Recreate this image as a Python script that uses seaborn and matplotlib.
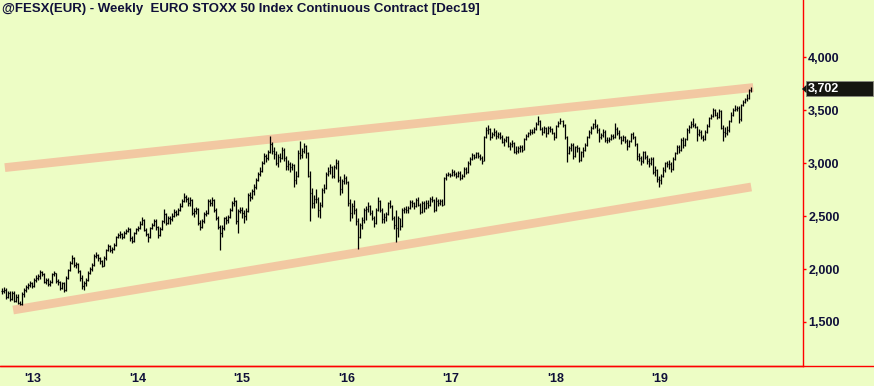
import matplotlib
matplotlib.use("Agg")
import matplotlib.pyplot as plt
import matplotlib.dates as mdates
import matplotlib.transforms as mtransforms
from matplotlib.lines import Line2D
from matplotlib.patches import Rectangle, Polygon
from matplotlib.ticker import FixedLocator, FuncFormatter
import numpy as np
import pandas as pd
import seaborn as sns

TITLE = "@FESX(EUR) - Weekly  EURO STOXX 50 Index Continuous Contract [Dec19]"
FIRST_WEEK = "2012-09-14"
LAST_PRICE = 3702

# weekly closes, one row per quarter
closes = [
    1790, 1800, 1740, 1770, 1720, 1770, 1700, 1740, 1680, 1670, 1760, 1800, 1830, 1850, 1870, 1840,
    1900, 1920, 1930, 1970, 1950, 1880, 1900, 1860, 1880, 1950, 1960, 1890, 1880,
    1820, 1870, 1800, 1920, 1990, 2060, 2100, 2040, 2050, 1980, 1920, 1840, 1870,
    1900, 1960, 2000, 2040, 2120, 2130, 2100, 2080, 2030, 2100, 2180, 2220, 2180,
    2190, 2230, 2300, 2320, 2330, 2300, 2340, 2360, 2380, 2290, 2270, 2340, 2380,
    2390, 2430, 2460, 2370, 2330, 2300, 2390, 2420, 2450, 2400, 2320, 2380, 2450,
    2520, 2440, 2480, 2470, 2500, 2540, 2520, 2560, 2600, 2640, 2680, 2660, 2620,
    2650, 2530, 2550, 2570, 2440, 2400, 2450, 2520, 2530, 2640, 2620, 2650, 2560,
    2480, 2400, 2340, 2390, 2480, 2460, 2490, 2560, 2620, 2640, 2450, 2550, 2560,
    2530, 2500, 2550, 2700, 2680, 2740, 2780, 2840, 2900, 2930, 3000, 3070, 3050,
    3110, 3180, 3120, 3090, 3000, 3060, 3050, 3130, 3050, 2970, 2990, 2960, 2980,
    2840, 2880, 3100, 3080, 3120, 3160, 3100, 2880, 2720, 2620, 2660, 2660, 2560,
    2610, 2750, 2770, 2900, 2930, 2960, 2880, 2960, 3000, 2840, 2760, 2830, 2860,
    2820, 2620, 2530, 2600, 2560, 2450, 2300, 2420, 2460, 2560, 2570, 2600, 2530,
    2480, 2440, 2560, 2640, 2560, 2470, 2490, 2520, 2620, 2600, 2480, 2420, 2390,
    2480, 2410, 2560, 2570, 2560, 2580, 2630, 2620, 2600, 2650, 2610, 2540, 2620, 2580,
    2620, 2610, 2660, 2650, 2560, 2640, 2620, 2640, 2610, 2860, 2890, 2900, 2890,
    2920, 2900, 2880, 2910, 2860, 2880, 2950, 2920, 3000, 3040, 3080, 3060, 3100,
    3070, 3050, 3020, 3250, 3310, 3320, 3250, 3280, 3300, 3260, 3280, 3250, 3200,
    3220, 3250, 3160, 3180, 3190, 3110, 3120, 3140, 3150, 3130, 3230, 3260, 3290,
    3300, 3300, 3320, 3370, 3400, 3320, 3300, 3330, 3290, 3330, 3320, 3290, 3250,
    3350, 3380, 3400, 3360, 3250, 3100, 3140, 3170, 3070, 3150, 3140, 3030, 3110,
    3130, 3170, 3250, 3300, 3330, 3370, 3350, 3310, 3250, 3270, 3300, 3220, 3220,
    3230, 3260, 3250, 3320, 3290, 3250, 3220, 3250, 3210, 3160, 3210, 3280, 3250,
    3180, 3070, 3050, 3020, 3110, 3060, 3020, 3000, 3040, 2920, 2940, 2850, 2840,
    2880, 2940, 3000, 2990, 2990, 2950, 3040, 3100, 3150, 3130, 3220, 3170, 3230,
    3310, 3340, 3370, 3360, 3340, 3280, 3300, 3250, 3230, 3300, 3350, 3430, 3450,
    3500, 3460, 3440, 3490, 3330, 3300, 3290, 3310, 3400, 3460, 3500, 3510, 3520,
    3420, 3550, 3580, 3610, 3620, 3690, 3702,
]

highs = [
    1820, 1830, 1820, 1790, 1790, 1790, 1790, 1760, 1760, 1700, 1780, 1820, 1850, 1870, 1890, 1880,
    1920, 1940, 1950, 1990, 1980, 1960, 1920, 1920, 1900, 1960, 1980, 1960, 1910,
    1890, 1880, 1880, 1930, 2000, 2080, 2130, 2110, 2070, 2060, 1990, 1940, 1890,
    1920, 1980, 2020, 2060, 2140, 2160, 2140, 2110, 2090, 2120, 2190, 2240, 2230,
    2210, 2250, 2310, 2340, 2360, 2340, 2360, 2380, 2400, 2390, 2310, 2350, 2390,
    2410, 2450, 2490, 2470, 2390, 2340, 2400, 2440, 2470, 2470, 2410, 2400, 2460,
    2565, 2530, 2500, 2500, 2530, 2570, 2560, 2580, 2620, 2660, 2720, 2700, 2680,
    2680, 2660, 2580, 2590, 2580, 2460, 2470, 2540, 2560, 2660, 2660, 2680, 2660,
    2580, 2500, 2420, 2420, 2490, 2500, 2510, 2580, 2640, 2680, 2650, 2570, 2590,
    2590, 2560, 2580, 2720, 2730, 2760, 2800, 2860, 2920, 2960, 3020, 3100, 3090,
    3130, 3255, 3200, 3150, 3120, 3090, 3100, 3150, 3140, 3070, 3030, 3010, 3000,
    2990, 2930, 3130, 3210, 3140, 3190, 3170, 3110, 2930, 2770, 2700, 2760, 2680,
    2630, 2770, 2800, 2920, 2960, 2990, 2970, 2980, 3045, 3030, 2880, 2850, 2900,
    2880, 2830, 2660, 2620, 2650, 2580, 2480, 2440, 2490, 2580, 2600, 2630, 2610,
    2560, 2500, 2580, 2680, 2650, 2580, 2530, 2540, 2630, 2650, 2610, 2500, 2560,
    2500, 2480, 2580, 2590, 2600, 2600, 2650, 2650, 2630, 2670, 2680, 2620, 2640, 2640,
    2650, 2650, 2680, 2690, 2660, 2680, 2660, 2660, 2660, 2870, 2910, 2920, 2910,
    2950, 2940, 2920, 2930, 2930, 2900, 2960, 2960, 3020, 3060, 3100, 3090, 3110,
    3110, 3090, 3070, 3260, 3340, 3360, 3330, 3300, 3330, 3310, 3300, 3300, 3270,
    3240, 3260, 3260, 3200, 3220, 3200, 3160, 3160, 3170, 3170, 3240, 3280, 3300,
    3320, 3320, 3340, 3390, 3445, 3410, 3340, 3350, 3340, 3350, 3350, 3330, 3300,
    3360, 3400, 3425, 3410, 3370, 3260, 3160, 3190, 3190, 3160, 3170, 3150, 3120,
    3150, 3190, 3260, 3310, 3350, 3380, 3415, 3370, 3330, 3290, 3320, 3310, 3250,
    3250, 3280, 3280, 3380, 3340, 3310, 3260, 3270, 3260, 3230, 3220, 3290, 3300,
    3260, 3190, 3100, 3070, 3120, 3120, 3080, 3050, 3060, 3060, 2970, 2950, 2880,
    2900, 2960, 3010, 3020, 3030, 3010, 3060, 3110, 3170, 3170, 3240, 3250, 3240,
    3330, 3360, 3400, 3425, 3380, 3350, 3320, 3310, 3270, 3310, 3370, 3440, 3470,
    3520, 3510, 3480, 3510, 3500, 3360, 3340, 3350, 3410, 3480, 3520, 3550, 3540,
    3540, 3560, 3600, 3620, 3650, 3700, 3720,
]

lows = [
    1760, 1770, 1720, 1730, 1700, 1710, 1690, 1690, 1670, 1660, 1660, 1740, 1780, 1810, 1830, 1820,
    1830, 1880, 1900, 1910, 1930, 1870, 1860, 1840, 1840, 1870, 1930, 1870, 1850,
    1800, 1810, 1785, 1790, 1910, 1980, 2050, 2020, 2010, 1960, 1890, 1810, 1800,
    1840, 1890, 1950, 1980, 2030, 2100, 2080, 2050, 2020, 2030, 2090, 2170, 2160,
    2150, 2180, 2220, 2290, 2290, 2280, 2290, 2330, 2350, 2270, 2245, 2260, 2330,
    2360, 2380, 2420, 2360, 2310, 2255, 2290, 2380, 2410, 2370, 2290, 2310, 2370,
    2440, 2420, 2430, 2430, 2450, 2490, 2500, 2510, 2550, 2590, 2630, 2630, 2600,
    2600, 2510, 2490, 2520, 2420, 2370, 2390, 2440, 2500, 2520, 2600, 2600, 2540,
    2460, 2380, 2180, 2300, 2370, 2430, 2440, 2480, 2550, 2600, 2430, 2340, 2530,
    2480, 2440, 2460, 2540, 2640, 2660, 2700, 2760, 2830, 2880, 2920, 2990, 3010,
    3030, 3100, 3090, 3040, 2980, 2960, 3010, 3040, 3020, 2940, 2940, 2920, 2940,
    2775, 2800, 2870, 3040, 3050, 3100, 3050, 2870, 2455, 2580, 2580, 2620, 2490,
    2480, 2590, 2720, 2760, 2880, 2900, 2860, 2860, 2950, 2820, 2700, 2720, 2800,
    2800, 2600, 2450, 2480, 2520, 2420, 2190, 2290, 2380, 2440, 2460, 2540, 2510,
    2460, 2400, 2430, 2550, 2540, 2440, 2440, 2450, 2510, 2580, 2460, 2380, 2255,
    2300, 2370, 2400, 2530, 2530, 2530, 2570, 2590, 2570, 2590, 2600, 2520, 2530, 2540,
    2570, 2580, 2600, 2630, 2540, 2550, 2600, 2610, 2600, 2610, 2840, 2880, 2870,
    2880, 2880, 2860, 2870, 2840, 2850, 2870, 2900, 2910, 2980, 3030, 3040, 3050,
    3050, 3030, 2990, 3020, 3240, 3280, 3220, 3240, 3260, 3230, 3240, 3230, 3190,
    3160, 3200, 3150, 3130, 3150, 3095, 3090, 3100, 3110, 3110, 3130, 3220, 3250,
    3270, 3280, 3290, 3310, 3360, 3310, 3270, 3290, 3250, 3280, 3300, 3280, 3220,
    3240, 3340, 3370, 3340, 3230, 3010, 3090, 3120, 3040, 3060, 3110, 3010, 3020,
    3060, 3120, 3160, 3240, 3280, 3320, 3330, 3290, 3200, 3230, 3250, 3200, 3190,
    3200, 3220, 3230, 3240, 3270, 3230, 3180, 3210, 3190, 3130, 3150, 3200, 3230,
    3160, 3030, 3020, 2980, 3000, 3040, 2990, 2960, 2980, 2900, 2880, 2820, 2775,
    2800, 2870, 2920, 2960, 2950, 2920, 2940, 3030, 3090, 3100, 3120, 3140, 3160,
    3220, 3290, 3330, 3340, 3330, 3215, 3260, 3230, 3215, 3220, 3290, 3340, 3420,
    3440, 3450, 3420, 3430, 3320, 3215, 3250, 3270, 3300, 3390, 3450, 3490, 3490,
    3380, 3400, 3540, 3570, 3590, 3610, 3670,
]

# channel lines: (start date, start value, end date, end value)
upper_channel = ["2012-09-24", 2959, "2019-11-24", 3716]
lower_channel = ["2012-10-23", 1613, "2019-11-17", 2776]

year_ticks = [str(y) for y in range(2013, 2020)]
price_ticks = [1500, 2000, 2500, 3000, 3500, 4000]

BG = "#edfdc5"
AXIS_RED = "#ff0000"
TEXT = "#10103a"
CHANNEL = "#f2c8a2"

W, H = 874, 386
PLOT_W, PLOT_H = 803, 366

sns.set_style("white")
plt.rcParams["font.family"] = ["Liberation Sans", "DejaVu Sans"]

df = pd.DataFrame({
    "date": pd.date_range(FIRST_WEEK, periods=len(closes), freq="W-FRI"),
    "high": highs,
    "low": lows,
    "close": closes,
})
df["open"] = df["close"].shift(1).fillna(df["close"].iloc[0])

fig = plt.figure(figsize=(W / 100, H / 100), dpi=100)
fig.patch.set_facecolor(BG)
ax = fig.add_axes([0, 1 - PLOT_H / H, PLOT_W / W, PLOT_H / H])
ax.set_facecolor(BG)

# channel lines
for ch in (upper_channel, lower_channel):
    line_df = pd.DataFrame({"date": pd.to_datetime([ch[0], ch[2]]), "value": [ch[1], ch[3]]})
    sns.lineplot(data=line_df, x="date", y="value", ax=ax, color=CHANNEL, lw=6.3,
                 solid_capstyle="butt", zorder=1)

# OHLC bars
tick = pd.Timedelta(days=2.6)
ax.vlines(df["date"], df["low"], df["high"], color="black", lw=0.9, zorder=3)
ax.hlines(df["open"], df["date"] - tick, df["date"], color="black", lw=0.9, zorder=3)
ax.hlines(df["close"], df["date"], df["date"] + tick, color="black", lw=0.9, zorder=3)

ax.set_xlim(mdates.date2num(pd.Timestamp("2012-09-07")), mdates.date2num(pd.Timestamp("2020-05-16")))
ax.set_ylim(1084, 4543)
ax.set_xlabel("")
ax.set_ylabel("")

# x axis: years with quarterly minor ticks
major = [mdates.date2num(pd.Timestamp(y + "-01-01")) for y in year_ticks]
minor = [mdates.date2num(d) for d in pd.date_range("2012-10-01", "2019-10-01", freq="QS")
         if d.month != 1]
ax.xaxis.set_major_locator(FixedLocator(major))
ax.xaxis.set_minor_locator(FixedLocator(minor))
ax.xaxis.set_major_formatter(FuncFormatter(lambda v, p: "'" + mdates.num2date(v).strftime("%y")))
ax.tick_params(axis="x", which="major", direction="out", length=5, width=1,
               color=AXIS_RED, labelsize=9, labelcolor=TEXT, pad=0.3)
ax.tick_params(axis="x", which="minor", direction="out", length=2, width=1, color=AXIS_RED)

# y axis on the right
ax.yaxis.tick_right()
ax.yaxis.set_major_locator(FixedLocator(price_ticks))
ax.yaxis.set_major_formatter(FuncFormatter(lambda v, p: f"{v:,.0f}"))
ax.tick_params(axis="y", which="major", direction="out", length=2.2, width=1,
               color=AXIS_RED, labelsize=9, labelcolor=TEXT, pad=1.5)
for lab in ax.get_xticklabels() + ax.get_yticklabels():
    lab.set_fontweight("bold")

for side in ("top", "left"):
    ax.spines[side].set_visible(False)
for side in ("right", "bottom"):
    ax.spines[side].set_color(AXIS_RED)
    ax.spines[side].set_linewidth(1)
fig.add_artist(Line2D([0, 1], [1 - PLOT_H / H] * 2, transform=fig.transFigure,
                      color=AXIS_RED, lw=1))

# last price marker
blend = mtransforms.blended_transform_factory(fig.transFigure, ax.transData)
half = 7.5 * (4543 - 1084) / PLOT_H
ax.add_patch(Rectangle((806 / W, LAST_PRICE - half), 67 / W, 2 * half, transform=blend,
                       facecolor="#151510", edgecolor="#8a8a80", lw=0.6, clip_on=False, zorder=5))
ax.add_patch(Polygon([(802 / W, LAST_PRICE), (806.5 / W, LAST_PRICE + half * 0.55),
                      (806.5 / W, LAST_PRICE - half * 0.55)], closed=True, transform=blend,
                     facecolor="#151510", edgecolor="none", clip_on=False, zorder=5))
ax.text(808 / W, LAST_PRICE, f"{LAST_PRICE:,}", transform=blend, color="white",
        fontsize=9, fontweight="bold", va="center", ha="left", zorder=6, clip_on=False)

fig.text(2 / W, 1 - 9 / H, TITLE, color=TEXT, fontsize=9.5, fontweight="bold",
         va="center", ha="left")

fig.savefig("out.png", dpi=100, facecolor=BG)
